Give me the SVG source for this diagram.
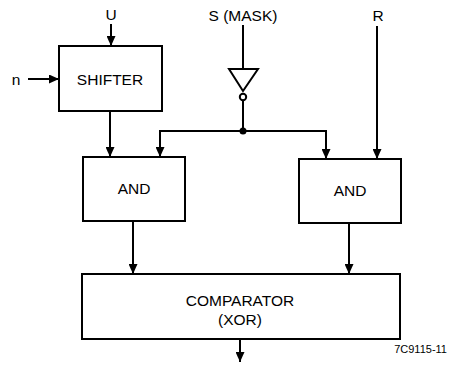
<svg xmlns="http://www.w3.org/2000/svg" width="467" height="371" viewBox="0 0 467 371">
<style>
.box{fill:#fff;stroke:#000;stroke-width:2}
.ln{fill:none;stroke:#000;stroke-width:2}
.t{font-family:"Liberation Sans",Arial,sans-serif;font-size:15.5px;fill:#000;text-anchor:middle}
.s{font-family:"Liberation Sans",Arial,sans-serif;font-size:11px;fill:#000;text-anchor:end}
</style>
<defs>
<marker id="ah" markerWidth="10" markerHeight="9" refX="10" refY="4.5" orient="auto" markerUnits="userSpaceOnUse">
<path d="M0,0 L10,4.5 L0,9 Z" fill="#000"/>
</marker>
</defs>
<rect width="467" height="371" fill="#fff"/>
<g id="labels">
<text class="t" x="111" y="20">U</text>
<text class="t" x="16" y="85">n</text>
<text class="t" x="243" y="21">S (MASK)</text>
<text class="t" x="378" y="21">R</text>
<text class="s" x="447" y="353">7C9115-11</text>
</g>
<g id="shifter">
<rect class="box" x="59" y="46" width="103" height="65"/>
<text class="t" x="110" y="85">SHIFTER</text>
</g>
<g id="inverter">
<path class="ln" d="M229,69 L258,69 L243,91 Z"/>
<circle class="ln" cx="243" cy="97" r="3.2"/>
</g>
<g id="and1">
<rect class="box" x="83" y="157" width="102" height="64"/>
<text class="t" x="134" y="194">AND</text>
</g>
<g id="and2">
<rect class="box" x="299" y="159" width="102" height="64"/>
<text class="t" x="350" y="196">AND</text>
</g>
<g id="comparator">
<rect class="box" x="82" y="274" width="318" height="65"/>
<text class="t" x="240" y="306">COMPARATOR</text>
<text class="t" x="240" y="325">(XOR)</text>
</g>
<g id="connectors">
<line class="ln" x1="111" y1="24" x2="111" y2="46" marker-end="url(#ah)"/>
<line class="ln" x1="28" y1="79" x2="59" y2="79" marker-end="url(#ah)"/>
<line class="ln" x1="243" y1="25" x2="243" y2="69"/>
<line class="ln" x1="243" y1="100" x2="243" y2="131"/>
<circle cx="243" cy="131" r="3.5" fill="#000"/>
<path class="ln" d="M160,157 L160,131 L326,131 L326,159" marker-end="url(#ah)"/>
<line class="ln" x1="160" y1="140" x2="160" y2="157" marker-end="url(#ah)"/>
<line class="ln" x1="110" y1="111" x2="110" y2="157" marker-end="url(#ah)"/>
<line class="ln" x1="377" y1="26" x2="377" y2="159" marker-end="url(#ah)"/>
<line class="ln" x1="133" y1="221" x2="133" y2="274" marker-end="url(#ah)"/>
<line class="ln" x1="349" y1="223" x2="349" y2="274" marker-end="url(#ah)"/>
<line class="ln" x1="240" y1="339" x2="240" y2="362" marker-end="url(#ah)"/>
</g>
</svg>
